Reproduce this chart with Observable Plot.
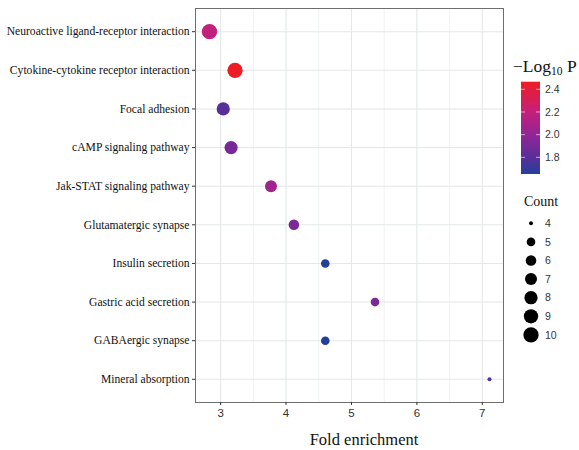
<!DOCTYPE html>
<html>
<head>
<meta charset="utf-8">
<script src="https://cdn.jsdelivr.net/npm/d3@7"></script>
<script src="https://cdn.jsdelivr.net/npm/@observablehq/plot@0.6"></script>
<style>
  html, body { margin: 0; padding: 0; background: #fff; }
</style>
</head>
<body>
<div id="chart"></div>
<script>
// ---- data ----
const pathways = [
  "Neuroactive ligand-receptor interaction",
  "Cytokine-cytokine receptor interaction",
  "Focal adhesion",
  "cAMP signaling pathway",
  "Jak-STAT signaling pathway",
  "Glutamatergic synapse",
  "Insulin secretion",
  "Gastric acid secretion",
  "GABAergic synapse",
  "Mineral absorption"
];
const foldEnrichment = [2.83, 3.22, 3.04, 3.16, 3.77, 4.12, 4.60, 5.36, 4.60, 7.11];
const counts = [10, 10, 8, 8, 7, 6, 5, 5, 5, 4];
const negLog10P = [2.18, 2.467, 1.79, 1.91, 2.06, 1.92, 1.653, 1.92, 1.653, 1.77];
const xTicks = [3, 4, 5, 6, 7];
const xMinorTicks = [3.5, 4.5, 5.5, 6.5];
const colorTicks = [1.8, 2.0, 2.2, 2.4];
const countTicks = [4, 5, 6, 7, 8, 9, 10];

const data = pathways.map((p, i) => ({
  pathway: p, fold: foldEnrichment[i], count: counts[i], p: negLog10P[i]
}));

const countMin = d3.min(counts), countMax = d3.max(counts);
const pMin = d3.min(negLog10P), pMax = d3.max(negLog10P);
const fMin = d3.min(foldEnrichment), fMax = d3.max(foldEnrichment);
const fPad = (fMax - fMin) * 0.05;

// palette sampled from the reference colourbar (bottom → top)
const paletteStops = [pMin, 1.8, 2.0, 2.2, pMax];
const paletteColors = ["#22409a", "#5a2e98", "#922597", "#c4207a", "#ee1c25"];

const W = 579, H = 450;
const mL = 195, mR = 76, mT = 8, mB = 48;
const serif = "Liberation Serif, Times New Roman, serif";
const sans = "Liberation Sans, Arial, sans-serif";

const plot = Plot.plot({
  width: W,
  height: H,
  marginLeft: mL,
  marginRight: mR,
  marginTop: mT,
  marginBottom: mB,
  style: { background: "#fff", fontFamily: sans },
  x: { domain: [fMin - fPad, fMax + fPad] },
  y: { type: "point", domain: pathways, padding: 0.6, round: false },
  color: {
    type: "linear",
    domain: paletteStops,
    range: paletteColors,
    interpolate: "rgb"
  },
  r: { type: "sqrt", domain: [0, countMax - countMin], range: [2, 7.65] },
  marks: [
    Plot.gridX(xMinorTicks, { stroke: "#e6ebeb", strokeOpacity: 1, strokeWidth: 0.6 }),
    Plot.gridX(xTicks, { stroke: "#e3e8e8", strokeOpacity: 1, strokeWidth: 1.1 }),
    Plot.gridY({ stroke: "#e3e8e8", strokeOpacity: 1, strokeWidth: 1.1 }),
    Plot.frame({ stroke: "#6e6e6e", strokeWidth: 1 }),
    Plot.axisX({
      ticks: xTicks, tickFormat: "d", tickSize: 3, tickPadding: 3, stroke: "#333",
      fontSize: 11.5, fill: "#333", label: null, fontFamily: sans
    }),
    Plot.axisY({
      tickSize: 3, tickPadding: 3, stroke: "#333",
      fontSize: 11.6, fill: "#111", label: null, fontFamily: serif
    }),
    Plot.dot(data, {
      x: "fold", y: "pathway",
      r: d => d.count - countMin,
      fill: "p", stroke: "none"
    })
  ]
});

document.getElementById("chart").appendChild(plot);

const svg = d3.select(plot);
const colorScale = plot.scale("color");
const rScale = plot.scale("r");

// x-axis title
svg.append("text")
  .attr("x", 364).attr("y", 445)
  .attr("text-anchor", "middle")
  .attr("font-family", serif)
  .attr("font-size", 16.5)
  .attr("fill", "#111")
  .text("Fold enrichment");

// ---- color legend ----
const cb = { x: 521, y: 81.7, w: 19, h: 92.3 };
const cLinear = d3.scaleLinear().domain([pMin, pMax]).range([cb.y + cb.h, cb.y]);

const title = svg.append("text")
  .attr("x", 513).attr("y", 72)
  .attr("text-anchor", "start")
  .attr("font-family", serif)
  .attr("font-size", 17.5)
  .attr("fill", "#111");
title.append("tspan").text("\u2212Log");
title.append("tspan").attr("font-size", 11.5).attr("dy", 3).text("10");
title.append("tspan").attr("dy", -3).text(" P");

const defs = svg.append("defs");
const grad = defs.append("linearGradient")
  .attr("id", "cbgrad").attr("x1", 0).attr("y1", 1).attr("x2", 0).attr("y2", 0);
d3.range(0, 1.0001, 0.025).forEach(t => {
  grad.append("stop")
    .attr("offset", t)
    .attr("stop-color", colorScale.apply(pMin + t * (pMax - pMin)));
});
svg.append("rect")
  .attr("x", cb.x).attr("y", cb.y).attr("width", cb.w).attr("height", cb.h)
  .attr("fill", "url(#cbgrad)");

colorTicks.forEach(v => {
  const yy = cLinear(v);
  svg.append("line").attr("x1", cb.x).attr("x2", cb.x + 4)
    .attr("y1", yy).attr("y2", yy).attr("stroke", "#fff").attr("stroke-opacity", 0.6);
  svg.append("line").attr("x1", cb.x + cb.w - 4).attr("x2", cb.x + cb.w)
    .attr("y1", yy).attr("y2", yy).attr("stroke", "#fff").attr("stroke-opacity", 0.6);
  svg.append("text")
    .attr("x", 545).attr("y", yy).attr("dy", "0.35em")
    .attr("text-anchor", "start")
    .attr("font-family", sans)
    .attr("font-size", 10.5).attr("fill", "#333")
    .text(v.toFixed(1));
});

// ---- size legend ----
svg.append("text")
  .attr("x", 524).attr("y", 206)
  .attr("text-anchor", "start")
  .attr("font-family", serif)
  .attr("font-size", 14)
  .attr("fill", "#111")
  .text("Count");

countTicks.forEach((c, i) => {
  const yy = 223.3 + i * 18.6;
  svg.append("circle")
    .attr("cx", 531).attr("cy", yy)
    .attr("r", rScale.apply(c - countMin))
    .attr("fill", "#000");
  svg.append("text")
    .attr("x", 545).attr("y", yy).attr("dy", "0.35em")
    .attr("text-anchor", "start")
    .attr("font-family", sans)
    .attr("font-size", 10.5).attr("fill", "#333")
    .text(c);
});
</script>
</body>
</html>
